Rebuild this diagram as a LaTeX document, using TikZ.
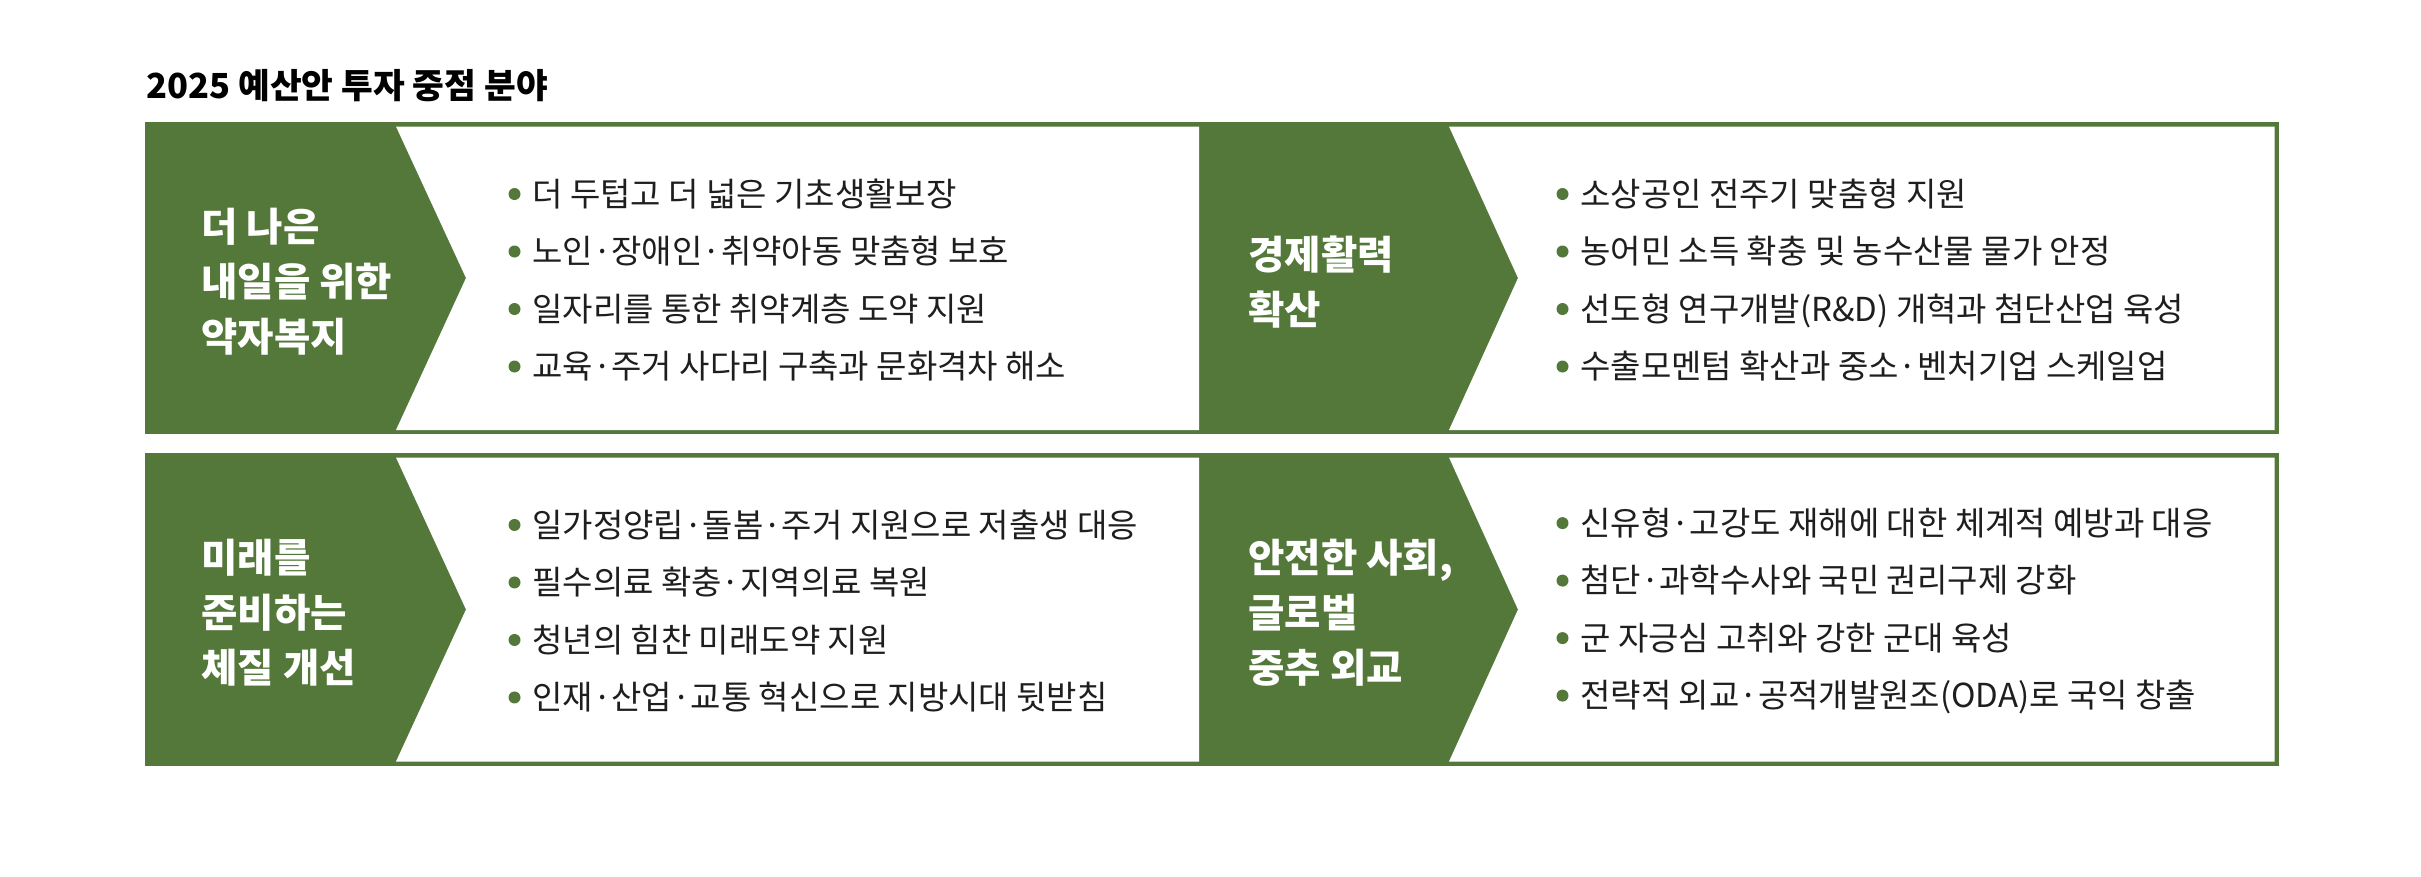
\documentclass[tikz,border=0pt]{standalone}
\usepackage{fontspec}
\setmainfont{Noto Sans CJK KR}
\usepackage{xcolor}
\usepackage{tikz}
\usetikzlibrary{positioning}
\definecolor{budgetgreen}{HTML}{53783A}
\definecolor{budgetdark}{HTML}{1E1E1E}
\newcommand{\gdot}{\tikz[baseline=-0.37em]\fill[budgetgreen] (0,0) circle (2.4pt);\hspace{0.36em}}
\tikzset{
  panel/.style={fill=budgetgreen},
  sheet/.style={fill=white},
  title/.style={anchor=west,inner sep=0pt,text=black,font=\fontsize{13.8}{16}\selectfont\bfseries},
  head/.style={anchor=west,inner sep=0pt,align=left,text=white,font=\fontsize{15.8}{22}\selectfont\bfseries},
  items/.style={anchor=west,inner sep=0pt,align=left,text=budgetdark,font=\fontsize{13.2}{23}\selectfont},
}

\begin{document}
\begin{tikzpicture}[x=0.4pt,y=-0.4pt]
  \useasboundingbox (0,0) rectangle (2421,876);
  \fill[white] (0,0) rectangle (2421,876);

  % top row
  \fill[panel] (145,122) rectangle (2279,434);
  \fill[sheet] (396,126.5) -- (1199,126.5) -- (1199,430) -- (396,430) -- (466,278) -- cycle;
  \fill[sheet] (1449,126.5) -- (2274.5,126.5) -- (2274.5,430) -- (1449,430) -- (1518,278) -- cycle;
  % bottom row
  \fill[panel] (145,453) rectangle (2279,766);
  \fill[sheet] (396,457.5) -- (1199,457.5) -- (1199,761.5) -- (396,761.5) -- (466,609.5) -- cycle;
  \fill[sheet] (1449,457.5) -- (2274.5,457.5) -- (2274.5,761.5) -- (1449,761.5) -- (1518,609.5) -- cycle;

  \node[title] (title) at (146,86) {2025 예산안 투자 중점 분야};

  \node[head] (welfare) at (201,282) {더 나은\\내일을 위한\\약자복지};
  \node[head] (economy) at (1248,282) {경제활력\\확산};
  \node[head] (future) at (201,613) {미래를\\준비하는\\체질 개선};
  \node[head] (safety) at (1248,613) {안전한 사회,\\글로벌\\중추 외교};

  \node[items] (welfarelist) at (508,280) {\gdot 더 두텁고 더 넓은 기초생활보장\\
    \gdot 노인·장애인·취약아동 맞춤형 보호\\
    \gdot 일자리를 통한 취약계층 도약 지원\\
    \gdot 교육·주거 사다리 구축과 문화격차 해소};
  \node[items] (economylist) at (1556,280) {\gdot 소상공인 전주기 맞춤형 지원\\
    \gdot 농어민 소득 확충 및 농수산물 물가 안정\\
    \gdot 선도형 연구개발(R\&D) 개혁과 첨단산업 육성\\
    \gdot 수출모멘텀 확산과 중소·벤처기업 스케일업};
  \node[items] (futurelist) at (508,611) {\gdot 일가정양립·돌봄·주거 지원으로 저출생 대응\\
    \gdot 필수의료 확충·지역의료 복원\\
    \gdot 청년의 힘찬 미래도약 지원\\
    \gdot 인재·산업·교통 혁신으로 지방시대 뒷받침};
  \node[items] (safetylist) at (1556,611) {\gdot 신유형·고강도 재해에 대한 체계적 예방과 대응\\
    \gdot 첨단·과학수사와 국민 권리구제 강화\\
    \gdot 군 자긍심 고취와 강한 군대 육성\\
    \gdot 전략적 외교·공적개발원조(ODA)로 국익 창출};
\end{tikzpicture}
\end{document}
